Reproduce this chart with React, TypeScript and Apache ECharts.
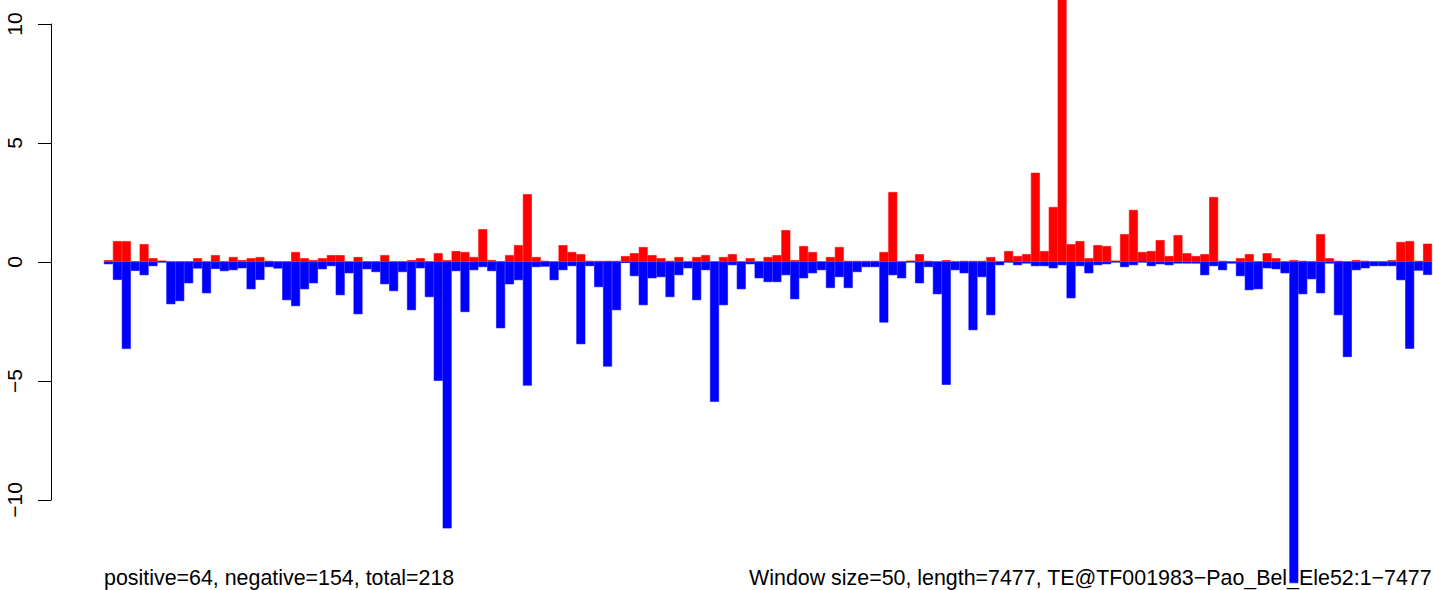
import React, { useEffect, useRef } from "react";
import * as echarts from "echarts";

// One entry per 50-bp window (positions 1..7477)
const windows: number[] = Array.from({ length: 149 }, (_, i) => i + 1);

const positive: number[] = [
  0.07, 0.87, 0.87, 0, 0.74, 0.15, 0.05, 0, 0, 0,
  0.15, 0, 0.28, 0, 0.2, 0.07, 0.15, 0.2, 0.04, 0,
  0, 0.41, 0.15, 0.07, 0.15, 0.28, 0.28, 0, 0.2, 0,
  0, 0.28, 0, 0, 0.07, 0.15, 0, 0.36, 0.07, 0.45,
  0.41, 0.2, 1.37, 0.07, 0, 0.28, 0.7, 2.84, 0.2, 0.04,
  0, 0.7, 0.41, 0.32, 0.04, 0.04, 0.04, 0.04, 0.24, 0.36,
  0.62, 0.28, 0.15, 0.04, 0.2, 0, 0.2, 0.28, 0, 0.2,
  0.32, 0, 0.15, 0, 0.2, 0.28, 1.33, 0.07, 0.66, 0.41,
  0, 0.2, 0.62, 0.04, 0.04, 0.04, 0.04, 0.41, 2.93, 0,
  0.05, 0.32, 0.04, 0, 0.07, 0, 0.04, 0.04, 0.04, 0.2,
  0, 0.45, 0.24, 0.32, 3.74, 0.45, 2.3, 12, 0.74, 0.87,
  0.15, 0.7, 0.66, 0.05, 1.16, 2.18, 0.41, 0.45, 0.91, 0.24,
  1.12, 0.36, 0.24, 0.32, 2.72, 0.04, 0, 0.15, 0.32, 0,
  0.36, 0.15, 0, 0.07, 0.04, 0, 1.16, 0.15, 0.04, 0,
  0.07, 0.04, 0, 0, 0.07, 0.83, 0.87, 0.04, 0.76,
];

const negative: number[] = [
  -0.1, -0.76, -3.66, -0.38, -0.56, -0.18, 0, -1.78, -1.65, -0.9,
  -0.28, -1.32, -0.3, -0.39, -0.35, -0.27, -1.15, -0.76, -0.22, -0.28,
  -1.61, -1.86, -1.15, -0.9, -0.31, -0.18, -1.4, -0.48, -2.2, -0.31,
  -0.43, -0.94, -1.23, -0.43, -2.03, -0.27, -1.48, -5.0, -11.2, -0.39,
  -2.11, -0.35, -0.22, -0.39, -2.79, -0.94, -0.77, -5.2, -0.22, -0.2,
  -0.77, -0.35, -0.18, -3.46, -0.18, -1.06, -4.4, -2.03, -0.04, -0.6,
  -1.82, -0.69, -0.64, -1.48, -0.56, -0.27, -1.61, -0.35, -5.88, -1.82,
  -0.14, -1.15, -0.1, -0.69, -0.85, -0.85, -0.56, -1.57, -0.69, -0.48,
  -0.35, -1.1, -0.64, -1.1, -0.43, -0.22, -0.22, -2.55, -0.56, -0.69,
  0, -0.9, -0.22, -1.36, -5.17, -0.35, -0.48, -2.87, -0.64, -2.24,
  -0.14, 0, -0.14, -0.07, -0.18, -0.18, -0.27, -0.14, -1.53, -0.18,
  -0.48, -0.14, -0.1, 0, -0.22, -0.14, 0, -0.18, -0.1, -0.14,
  -0.07, -0.07, -0.07, -0.56, -0.18, -0.35, -0.07, -0.6, -1.19, -1.15,
  -0.27, -0.31, -0.48, -13.5, -1.36, -0.73, -1.32, -0.07, -2.24, -4.0,
  -0.35, -0.27, -0.18, -0.18, -0.18, -0.77, -3.65, -0.37, -0.55,
];

const yTicks: number[] = [-10, -5, 0, 5, 10];
const leftNote = "positive=64, negative=154, total=218";
const rightNote = "Window size=50, length=7477, TE@TF001983\u2212Pao_Bel_Ele52:1\u22127477";

const FONT = "'Liberation Sans', Arial, Helvetica, sans-serif";

export default function App() {
  const ref = useRef<HTMLDivElement>(null);

  useEffect(() => {
    if (!ref.current) return;
    const chart = echarts.init(ref.current, undefined, { renderer: "svg" });
    chart.setOption({
      animation: false,
      backgroundColor: "#ffffff",
      grid: [
        { left: 104, right: 1, top: 0, bottom: 4.5 },
        { left: 51, width: 10, top: 24, bottom: 90 },
      ],
      xAxis: [
        {
          type: "category",
          gridIndex: 0,
          data: windows,
          axisLine: { show: true, onZero: true, lineStyle: { color: "#aab4cc", width: 1 } },
          axisTick: { show: false },
          axisLabel: { show: false },
          splitLine: { show: false },
        },
        {
          type: "value",
          gridIndex: 1,
          show: false,
        },
      ],
      yAxis: [
        {
          type: "value",
          gridIndex: 0,
          min: -13.6,
          max: 11,
          show: false,
          splitLine: { show: false },
        },
        {
          type: "value",
          gridIndex: 1,
          min: yTicks[0],
          max: yTicks[yTicks.length - 1],
          interval: 5,
          axisLine: { show: true, lineStyle: { color: "#000", width: 1 } },
          axisTick: { show: true, length: 13, inside: false, lineStyle: { color: "#000", width: 1 } },
          axisLabel: {
            rotate: 90,
            margin: 26,
            color: "#000",
            fontSize: 21,
            fontFamily: FONT,
            formatter: (v: number) => (v < 0 ? "\u2212" + Math.abs(v) : String(v)),
          },
          splitLine: { show: false },
        },
      ],
      series: [
        {
          type: "bar",
          xAxisIndex: 0,
          yAxisIndex: 0,
          data: positive,
          barWidth: "100%",
          barGap: "-100%",
          barCategoryGap: "0%",
          itemStyle: { color: "#ff0000", borderColor: "#ff0000", borderWidth: 0.6 },
          clip: true,
          silent: true,
          z: 3,
        },
        {
          type: "bar",
          xAxisIndex: 0,
          yAxisIndex: 0,
          data: negative,
          barWidth: "100%",
          barGap: "-100%",
          barCategoryGap: "0%",
          itemStyle: { color: "#0000ff", borderColor: "#0000ff", borderWidth: 0.6 },
          clip: true,
          silent: true,
          z: 3,
        },
      ],
      graphic: [
        {
          type: "text",
          z: 1,
          left: 104,
          top: 567,
          style: { text: leftNote, font: `21.4px ${FONT}`, fill: "#000" },
        },
        {
          type: "text",
          z: 1,
          right: 1,
          top: 567,
          style: { text: rightNote, font: `21.4px ${FONT}`, fill: "#000" },
        },
      ],
    });
    return () => chart.dispose();
  }, []);

  return (
    <div
      ref={ref}
      style={{ position: "fixed", left: 0, top: 0, width: 1433, height: 590, background: "#fff" }}
    />
  );
}
